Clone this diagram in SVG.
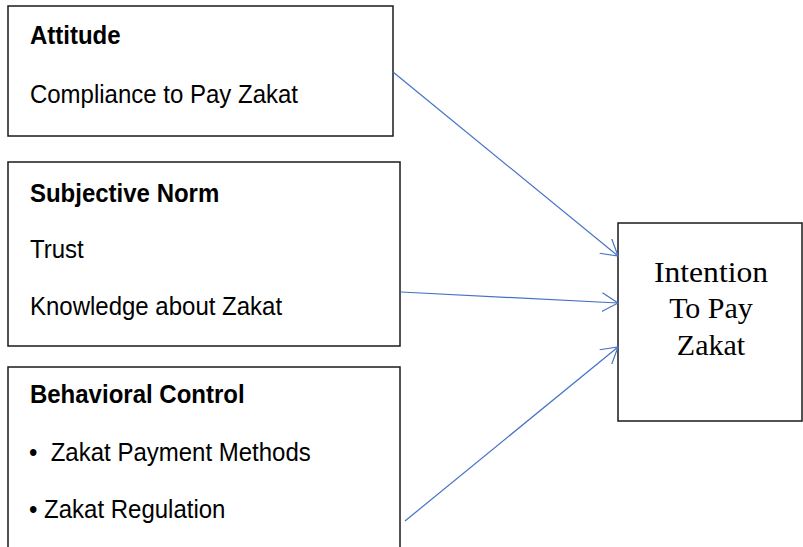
<svg xmlns="http://www.w3.org/2000/svg" width="803" height="547" viewBox="0 0 803 547">
  <defs>
    <style>
      .box { fill: #ffffff; stroke: #1a1a1a; stroke-width: 1.5; }
      .h { font-family: "Liberation Sans", Arial, sans-serif; font-size: 25px; font-weight: bold; fill: #000; }
      .t { font-family: "Liberation Sans", Arial, sans-serif; font-size: 25px; fill: #000; }
      .s { font-family: "Liberation Serif", "Times New Roman", serif; font-size: 30px; fill: #000; text-anchor: middle; }
      .conn { stroke: #4472C4; stroke-width: 1.2; fill: none; marker-end: url(#arr); }
    </style>
    <marker id="arr" viewBox="0 0 20 20" refX="16" refY="10" markerWidth="20" markerHeight="20" markerUnits="userSpaceOnUse" orient="auto">
      <path d="M0,0.5 L16,10 L0,19.5" fill="none" stroke="#4472C4" stroke-width="1.2"/>
    </marker>
  </defs>
  <rect width="803" height="547" fill="#ffffff"/>

  <g id="attitude">
    <rect class="box" x="8" y="6" width="385" height="130"/>
    <g transform="scale(0.96 1)">
      <text class="h" x="31.2" y="44">Attitude</text>
      <text class="t" x="31.2" y="103">Compliance to Pay Zakat</text>
    </g>
  </g>

  <g id="subjective-norm">
    <rect class="box" x="8" y="162" width="392" height="184"/>
    <g transform="scale(0.96 1)">
      <text class="h" x="31.2" y="202">Subjective Norm</text>
      <text class="t" x="31.2" y="258">Trust</text>
      <text class="t" x="31.2" y="315">Knowledge about Zakat</text>
    </g>
  </g>

  <g id="behavioral-control">
    <rect class="box" x="8" y="367" width="392" height="200"/>
    <g transform="scale(0.96 1)">
      <text class="h" x="31.2" y="403">Behavioral Control</text>
      <text class="t" x="30.2" y="461" xml:space="preserve">•  Zakat Payment Methods</text>
      <text class="t" x="30.2" y="518" xml:space="preserve">• Zakat Regulation</text>
    </g>
  </g>

  <g id="intention">
    <rect class="box" x="618" y="223" width="184" height="198"/>
    <text class="s" x="711" y="282" textLength="114" lengthAdjust="spacingAndGlyphs">Intention</text>
    <text class="s" x="711" y="318">To Pay</text>
    <text class="s" x="711" y="355">Zakat</text>
  </g>

  <g id="connectors">
    <line class="conn" x1="393" y1="72" x2="618" y2="256"/>
    <line class="conn" x1="401" y1="292" x2="618" y2="303"/>
    <line class="conn" x1="405" y1="521" x2="618" y2="347"/>
  </g>
</svg>
